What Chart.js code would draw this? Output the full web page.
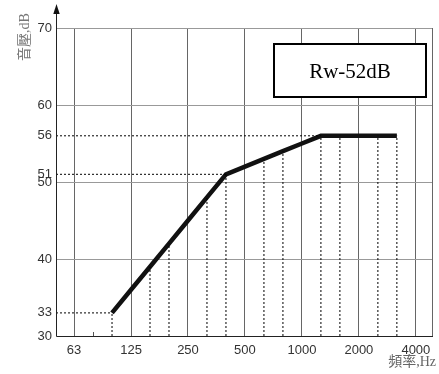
<!DOCTYPE html>
<html><head><meta charset="utf-8">
<script src="https://cdn.jsdelivr.net/npm/chart.js@4.4.1/dist/chart.umd.min.js"></script>
<style>html,body{margin:0;padding:0;background:#fff}#wrap{width:439px;height:374px;position:relative}</style>
</head><body><div id="wrap"><canvas id="c"></canvas></div>
<script>
// 1/3-octave band centre frequencies (Hz), index = position on x axis
const bands = [63,80,100,125,160,200,250,315,400,500,630,800,1000,1250,1600,2000,2500,3150,4000];
// Reference curve (Rw 52 dB) from 100 Hz to 3150 Hz
const curveBands = [100,125,160,200,250,315,400,500,630,800,1000,1250,1600,2000,2500,3150];
const curveValues = [33,36,39,42,45,48,51,52,53,54,55,56,56,56,56,56];
// dotted vertical drop lines (all bands that are not octave gridlines)
const dropBands = [100,160,200,315,400,630,800,1250,1600,2500,3150];
// dotted horizontal guide levels and the band where they meet the curve
const guideLevels = [33,51,56];
const guideBands = [100,400,1250];
const xTickLabels = ['63','125','250','500','1000','2000','4000'];
const yTicks = [30,33,40,50,51,56,60,70];
const yGridValues = [40,50,60,70];
const ratingText = 'Rw-52dB';
const yTitle = '音壓,dB';
const xTitle = '頻率,Hz';

const X_MIN = -0.95, X_MAX = 18.85;
const idx = f => bands.indexOf(f);
const curveOf = f => curveValues[curveBands.indexOf(f)];

const datasets = [];
dropBands.forEach(f => {
  datasets.push({data:[{x:idx(f),y:30},{x:idx(f),y:curveOf(f)}],borderColor:'#000',borderWidth:1,borderDash:[2,2],pointRadius:0,fill:false});
});
guideLevels.forEach((v,i) => {
  datasets.push({data:[{x:X_MIN,y:v},{x:idx(guideBands[i]),y:v}],borderColor:'#000',borderWidth:1,borderDash:[2,2],pointRadius:0,fill:false});
});
datasets.push({data:curveBands.map((f,i)=>({x:idx(f),y:curveValues[i]})),borderColor:'#111',borderWidth:4.5,pointRadius:0,fill:false,borderCapStyle:'butt',borderJoinStyle:'miter'});

const deco = {
  id:'deco',
  afterDraw(chart){
    const c = chart.ctx, xs = chart.scales.x, ys = chart.scales.y, a = chart.chartArea;
    c.save();
    // axis lines
    const ax = Math.round(xs.left)+0.5;
    c.strokeStyle='#222'; c.lineWidth=1;
    c.beginPath(); c.moveTo(ax, Math.round(ys.bottom)+0.5); c.lineTo(ax, 12); c.stroke();
    c.beginPath(); c.moveTo(ax, Math.round(ys.bottom)+0.5); c.lineTo(Math.round(a.right)+1, Math.round(ys.bottom)+0.5); c.stroke();
    // arrow
    c.fillStyle='#111';
    c.beginPath(); c.moveTo(ax,4); c.lineTo(ax-3.2,14); c.lineTo(ax+3.2,14); c.closePath(); c.fill();
    // small tick at 80 Hz
    const tx = Math.round(xs.getPixelForValue(idx(80)))+0.5;
    c.beginPath(); c.moveTo(tx, ys.bottom); c.lineTo(tx, ys.bottom-4); c.strokeStyle='#555'; c.stroke();
    // rating box
    c.fillStyle='#fff'; c.fillRect(274,44,152,53);
    c.strokeStyle='#000'; c.lineWidth=2; c.strokeRect(274,44,152,53);
    c.fillStyle='#000'; c.font='21px "Liberation Serif","Times New Roman",serif';
    c.textAlign='center'; c.textBaseline='middle'; c.fillText(ratingText,350,72);
    // y title (rotated)
    c.save(); c.translate(25,37); c.rotate(-Math.PI/2);
    c.fillStyle='#777'; c.font='14px "Liberation Serif","Noto Sans CJK TC",serif';
    c.textAlign='center'; c.textBaseline='middle'; c.fillText(yTitle,0,0); c.restore();
    // x title
    c.fillStyle='#666'; c.font='14px "Liberation Serif","Noto Sans CJK TC",serif';
    c.textAlign='right'; c.textBaseline='middle'; c.fillText(xTitle,436,362);
    c.restore();
  }
};

new Chart(document.getElementById('c'),{
  type:'line',
  data:{datasets},
  options:{
    responsive:true, maintainAspectRatio:false, animation:false,
    layout:{padding:{left:0,top:28,right:7,bottom:0}},
    plugins:{legend:{display:false},tooltip:{enabled:false}},
    scales:{
      x:{type:'linear',min:X_MIN,max:X_MAX,
        afterBuildTicks(s){ s.ticks = xTickLabels.map(l=>({value:idx(+l)})).concat([{value:X_MAX}]); },
        afterFit(s){ s.height = 38; },
        grid:{color:'#666',lineWidth:1,drawTicks:false},
        border:{display:false},
        ticks:{padding:7,color:'#333',font:{family:'"Liberation Sans",Arial,sans-serif',size:13},
          callback(v){ const i = Math.round(v); return (Math.abs(v-i)<1e-6 && xTickLabels.includes(String(bands[i]))) ? String(bands[i]) : ''; },
          autoSkip:false,maxRotation:0}
      },
      y:{type:'linear',min:30,max:70,
        afterBuildTicks(s){ s.ticks = yTicks.map(v=>({value:v})); },
        afterFit(s){ s.width = 56; },
        grid:{color:ctx=> yGridValues.includes(ctx.tick && ctx.tick.value) ? '#999' : 'rgba(0,0,0,0)',lineWidth:1,drawTicks:false},
        border:{display:false},
        ticks:{padding:4,color:'#333',font:{family:'"Liberation Sans",Arial,sans-serif',size:13},autoSkip:false}
      }
    }
  },
  plugins:[deco]
});
</script></body></html>
